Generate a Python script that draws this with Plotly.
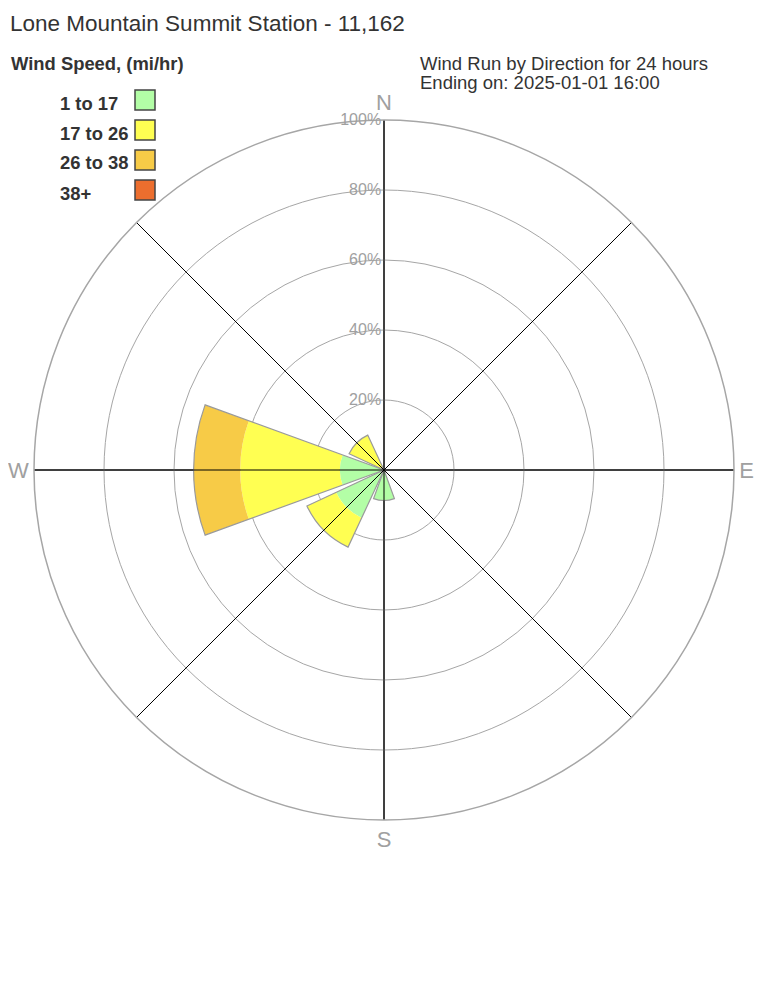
import plotly.graph_objects as go

# ---- data ----
directions = ["N", "NE", "E", "SE", "S", "SW", "W", "NW"]
direction_deg = [0, 45, 90, 135, 180, 225, 270, 315]
speed_bins = ["1 to 17", "17 to 26", "26 to 38", "38+"]
pct_1_17 = [0, 0, 0, 0, 8.7, 15.1, 12.6, 0]
pct_17_26 = [0, 0, 0, 0, 0, 9.2, 28.5, 11.0]
pct_26_38 = [0, 0, 0, 0, 0, 0, 13.3, 0]
pct_38_up = [0, 0, 0, 0, 0, 0, 0, 0]
radial_ticks = [20, 40, 60, 80, 100]
radial_tick_text = ["20%", "40%", "60%", "80%", "100%"]
cardinal_labels = ["N", "", "E", "", "S", "", "W", ""]

bin_colors = ["#b3fea6", "#ffff52", "#f7cb47", "#ec6e2e"]
series = [pct_1_17, pct_17_26, pct_26_38, pct_38_up]

FONT = "Liberation Sans, Arial, sans-serif"
TXT = "#333333"
GRID = "#a6a6a6"

# figure is offset by the page's 8px body margin
W, H = 760, 1000
OFF = 8
ML, MT, SIZE = 34 - OFF, 120 - OFF, 700
MR, MB = W - ML - SIZE, H - MT - SIZE

fig = go.Figure()

base = [0] * len(directions)
for name, vals, col in zip(speed_bins, series, bin_colors):
    fig.add_trace(go.Barpolar(
        r=vals, theta=direction_deg, base=base, width=40, name=name,
        marker=dict(color=col, line=dict(width=0)), showlegend=False,
        hoverinfo="skip"))
    base = [b + v for b, v in zip(base, vals)]

# outline of the total for each direction
fig.add_trace(go.Barpolar(
    r=base, theta=direction_deg, base=[0] * len(directions), width=40,
    marker=dict(color="rgba(0,0,0,0)", line=dict(color="#9a9a9a", width=1.2)),
    showlegend=False, hoverinfo="skip"))

# black direction lines drawn above bars
for d in direction_deg:
    fig.add_trace(go.Scatterpolar(
        r=[0, radial_ticks[-1]], theta=[d, d], mode="lines",
        line=dict(color="black", width=1), showlegend=False, hoverinfo="skip"))

fig.update_layout(
    width=W, height=H,
    margin=dict(l=ML, r=MR, t=MT, b=MB),
    paper_bgcolor="white", plot_bgcolor="white",
    font=dict(family=FONT),
    polar=dict(
        barmode="overlay",
        bgcolor="white",
        domain=dict(x=[0, 1], y=[0, 1]),
        angularaxis=dict(
            rotation=90, direction="clockwise", tickmode="array",
            tickvals=direction_deg, ticktext=cardinal_labels,
            showgrid=True, gridcolor="black", gridwidth=1,
            showline=True, linecolor=GRID, linewidth=1.5,
            ticks="", tickfont=dict(size=22, color="#a0a0a0", family=FONT),
        ),
        radialaxis=dict(
            range=[0, 100], tickmode="array", tickvals=radial_ticks,
            ticktext=radial_tick_text,
            angle=90, tickangle=90, side="counterclockwise",
            showgrid=True, gridcolor=GRID, gridwidth=1.4,
            showline=False, ticks="",
            tickfont=dict(size=16, color="#a0a0a0", family=FONT),
        ),
    ),
)


def px_to_paper(x, y):
    # x, y are screenshot pixels
    fx, fy = x - OFF, y - OFF
    return (fx - ML) / SIZE, (H - MB - fy) / SIZE


texts = [
    ("Lone Mountain Summit Station - 11,162", 8, 23, 22.5),
    ("<b>Wind Speed, (mi/hr)</b>", 9, 64, 18.4),
    ("Wind Run by Direction for 24 hours", 418, 63, 18.5),
    ("Ending on: 2025-01-01 16:00", 418, 82, 18.5),
]
layout_anns = []
for t, x, y, s in texts:
    px, py = px_to_paper(x, y)
    layout_anns.append(dict(text=t, x=px, y=py, xref="paper", yref="paper",
                            xanchor="left", yanchor="middle", showarrow=False,
                            font=dict(size=s, color=TXT, family=FONT)))

shapes = []
for i, (name, col) in enumerate(zip(speed_bins, bin_colors)):
    yc = 100 + 30 * i
    px, py = px_to_paper(58, yc + 3)
    layout_anns.append(dict(text="<b>" + name + "</b>", x=px, y=py, xref="paper", yref="paper",
                            xanchor="left", yanchor="middle", showarrow=False,
                            font=dict(size=18.4, color=TXT, family=FONT)))
    x0, y0 = px_to_paper(135, yc + 10)
    x1, y1 = px_to_paper(155, yc - 10)
    shapes.append(dict(type="rect", xref="paper", yref="paper", x0=x0, y0=y0, x1=x1, y1=y1,
                       fillcolor=col, line=dict(color="#444444", width=1.5)))

fig.update_layout(annotations=layout_anns, shapes=shapes)
fig.write_html("out.html")
